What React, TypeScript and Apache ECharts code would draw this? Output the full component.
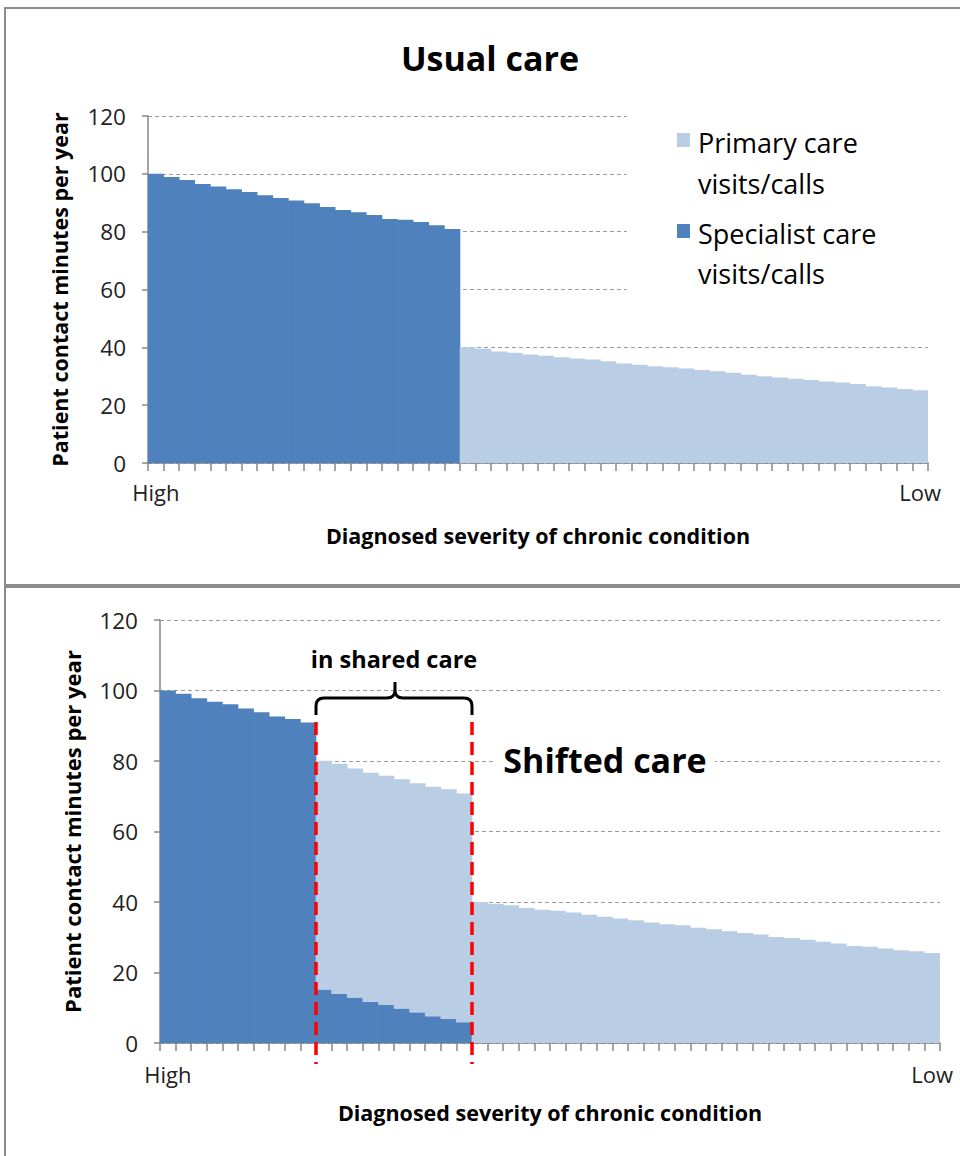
import React, { useEffect, useRef } from 'react';
import * as echarts from 'echarts';

// ---------- data ----------
const severityLabels = ['High', 'Low'];
const categories = Array.from({ length: 50 }, (_, i) => String(i + 1)); // severity rank, high -> low

// Usual care: specialist for the 20 most severe, primary for the other 30
const specialistUsual = [100, 98.9, 97.9, 96.5, 95.6, 94.7, 93.7, 92.6, 91.6, 90.8, 89.8, 88.5, 87.5, 86.7, 85.8, 84.4, 84.1, 83.3, 82.2, 80.9];
const primaryUsual = [40.0, 39.5, 38.6, 38.1, 37.5, 37.1, 36.6, 36.1, 35.8, 35.2, 34.4, 34.0, 33.5, 33.1, 32.7, 32.2, 31.7, 31.2, 30.5, 30.0, 29.6, 29.1, 28.7, 28.2, 27.8, 27.3, 26.5, 26.1, 25.6, 25.2];

// Shifted care
const specialistShiftedOnly = [100, 99.1, 97.8, 96.8, 96.1, 94.9, 93.8, 92.6, 91.9, 90.9];
const specialistShared = [15.2, 14.0, 12.9, 11.7, 10.9, 9.8, 8.7, 7.6, 6.8, 5.9];
const primaryShared = [64.9, 65.2, 65.0, 65.0, 64.9, 65.0, 65.0, 65.1, 65.2, 64.9];
const primaryShiftedOnly = [40.0, 39.5, 39.1, 38.3, 37.8, 37.5, 37.0, 36.4, 35.8, 35.3, 34.8, 34.2, 33.7, 33.4, 32.7, 32.3, 31.7, 31.2, 30.8, 30.1, 29.8, 29.3, 28.7, 28.2, 27.5, 27.3, 26.8, 26.3, 26.0, 25.5];

const yTicks = { min: 0, max: 120, interval: 20 };
const yTitle = 'Patient contact minutes per year';
const xTitle = 'Diagnosed severity of chronic condition';
const seriesNames = ['Primary care visits/calls', 'Specialist care visits/calls'];

const nulls = (n: number) => Array(n).fill(null);

const DARK = '#4F81BD';
const LIGHT = '#B9CDE5';
const AXIS = '#878787';
const FONT = '"Open Sans", Lato, sans-serif';

echarts.graphic.registerShape(
  'brace',
  echarts.graphic.extendPath(
    'M0 33 L0 24 Q0 16 8 16 L71 16 Q79 16 79 8 L79 0 M79 8 Q79 16 87 16 L148 16 Q156 16 156 24 L156 33',
    {}
  )
);

function xAxis(gridIndex: number, nameGap: number, margin: number, titleSize: number) {
  return {
    type: 'category',
    gridIndex,
    data: categories,
    boundaryGap: true,
    axisLine: { lineStyle: { color: AXIS, width: 1.5 } },
    axisTick: { show: true, interval: 0, length: 8, lineStyle: { color: AXIS, width: 1.5 } },
    axisLabel: {
      interval: 0,
      margin,
      fontFamily: FONT,
      fontSize: 22,
      color: '#222',
      formatter: (_v: string, i: number) =>
        i === 0 ? severityLabels[0] : i === categories.length - 1 ? severityLabels[1] : '',
    },
    splitLine: { show: false },
    name: xTitle,
    nameLocation: 'middle',
    nameGap,
    nameTextStyle: { fontFamily: FONT, fontWeight: 'bold', fontSize: titleSize, color: '#000' },
  };
}

function yAxis(gridIndex: number, nameGap: number, titleSize: number) {
  return {
    type: 'value',
    gridIndex,
    min: yTicks.min,
    max: yTicks.max,
    interval: yTicks.interval,
    axisLine: { show: true, lineStyle: { color: AXIS, width: 1.5 } },
    axisTick: { show: true, length: 6, lineStyle: { color: AXIS, width: 1.5 } },
    axisLabel: { margin: 22, fontFamily: FONT, fontSize: 22.5, color: '#222' },
    splitLine: { show: true, lineStyle: { type: [4, 3], color: '#9a9a9a', width: 1 } },
    name: yTitle,
    nameLocation: 'middle',
    nameRotate: 90,
    nameGap,
    nameTextStyle: { fontFamily: FONT, fontWeight: 'bold', fontSize: titleSize, color: '#000' },
  };
}

function bar(name: string, axis: number, stack: string, data: any[], color: string) {
  return {
    type: 'bar',
    name,
    xAxisIndex: axis,
    yAxisIndex: axis,
    stack,
    data,
    barWidth: '104%',
    itemStyle: { color },
    emphasis: { disabled: true },
  };
}

export default function App() {
  const ref = useRef<HTMLDivElement>(null);
  useEffect(() => {
    document.body.style.margin = '0';
    const chart = echarts.init(ref.current!, null, { renderer: 'svg' });
    chart.setOption({
      animation: false,
      backgroundColor: '#fff',
      grid: [
        { left: 148, right: 32, top: 116, bottom: 1156 - 463 },
        { left: 160, right: 20, top: 620, bottom: 1156 - 1043 },
      ],
      xAxis: [xAxis(0, 61, 18, 21.5), xAxis(1, 58, 20, 21.5)],
      yAxis: [yAxis(0, 78, 21.5), yAxis(1, 77, 22)],
      series: [
        bar(seriesNames[1], 0, 'usual', [...specialistUsual, ...nulls(30)], DARK),
        bar(seriesNames[0], 0, 'usual', [...nulls(20), ...primaryUsual], LIGHT),
        bar(seriesNames[1], 1, 'shifted', [...specialistShiftedOnly, ...specialistShared, ...nulls(30)], DARK),
        bar(seriesNames[0], 1, 'shifted', [...nulls(10), ...primaryShared, ...primaryShiftedOnly], LIGHT),
      ],
    });

    const mid = (a: number, b: number) => {
      const pa = chart.convertToPixel({ xAxisIndex: 1 }, categories[a]) as number;
      const pb = chart.convertToPixel({ xAxisIndex: 1 }, categories[b]) as number;
      return (pa + pb) / 2;
    };
    const b1 = mid(9, 10);
    const b2 = mid(19, 20);
    const redLine = (x: number) => ({
      type: 'line',
      shape: { x1: x, y1: 722, x2: x, y2: 1064 },
      style: { stroke: '#ff0000', lineWidth: 3.5, lineDash: [13, 7] },
      z: 100,
    });
    const legendText = (text: string, y: number) => ({
      type: 'text',
      x: 698,
      y,
      style: { text, fontFamily: FONT, fontSize: 27, fill: '#000', textVerticalAlign: 'middle' },
      z: 101,
    });

    chart.setOption({
      graphic: [
        // panel frames
        { type: 'rect', shape: { x: 5, y: 8, width: 980, height: 577 }, style: { fill: 'none', stroke: '#8c8c8c', lineWidth: 2 }, z: 100 },
        { type: 'rect', shape: { x: 5, y: 587, width: 980, height: 600 }, style: { fill: 'none', stroke: '#8c8c8c', lineWidth: 2 }, z: 100 },
        // titles
        {
          type: 'text', x: 490, y: 58,
          style: { text: 'Usual care', fontFamily: FONT, fontWeight: 'bold', fontSize: 34, fill: '#000', textAlign: 'center', textVerticalAlign: 'middle' },
          z: 101,
        },
        {
          type: 'text', x: 605, y: 760,
          style: { text: 'Shifted care', fontFamily: FONT, fontWeight: 'bold', fontSize: 34, fill: '#000', textAlign: 'center', textVerticalAlign: 'middle', backgroundColor: '#fff', padding: [0, 8] },
          z: 101,
        },
        // legend (white box hides gridlines behind it)
        { type: 'rect', shape: { x: 627, y: 106, width: 310, height: 190 }, style: { fill: '#fff' }, z: 100 },
        { type: 'rect', shape: { x: 677, y: 133, width: 13, height: 14 }, style: { fill: LIGHT }, z: 101 },
        legendText('Primary care', 142),
        legendText('visits/calls', 183),
        { type: 'rect', shape: { x: 677, y: 224, width: 13, height: 14 }, style: { fill: DARK }, z: 101 },
        legendText('Specialist care', 233),
        legendText('visits/calls', 273),
        // shared care annotation
        redLine(b1),
        redLine(b2),
        {
          type: 'brace',
          x: b1,
          y: 682,
          scaleX: (b2 - b1) / 156,
          scaleY: 1,
          style: { fill: 'none', stroke: '#000', lineWidth: 3 },
          z: 100,
        },
        {
          type: 'text',
          x: (b1 + b2) / 2,
          y: 659,
          style: { text: 'in shared care', fontFamily: FONT, fontWeight: 'bold', fontSize: 23.5, fill: '#000', textAlign: 'center', textVerticalAlign: 'middle' },
          z: 100,
        },
      ],
    });
    return () => chart.dispose();
  }, []);
  return <div ref={ref} style={{ width: 960, height: 1156 }} />;
}
